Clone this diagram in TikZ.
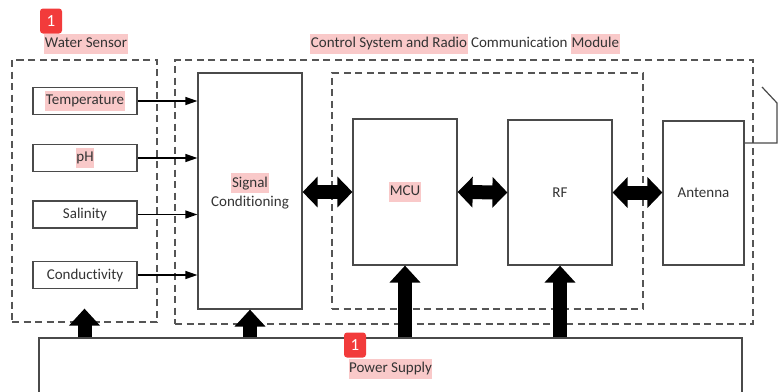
\documentclass[tikz,border=0pt]{standalone}
\usepackage{fontspec}
\setmainfont{Carlito}[Ligatures=NoCommon]
\usetikzlibrary{arrows.meta}

\definecolor{hlpink}{HTML}{F9C9C9}
\definecolor{badgered}{HTML}{F23B3B}
\definecolor{linegray}{HTML}{4A4A4A}
\definecolor{dashgray}{HTML}{555555}
\newcommand{\hl}[1]{{\setlength{\fboxsep}{0.6pt}\colorbox{hlpink}{\strut #1}}}

\tikzstyle{block} = [draw=linegray, line width=1.2pt, text=black!80, inner sep=0pt]
\tikzstyle{sensor} = [block, minimum width=104pt, minimum height=27pt]
\tikzstyle{group} = [draw=dashgray, line width=1.2pt, dash pattern=on 7pt off 4.5pt]
\tikzstyle{badge} = [fill=badgered, rounded corners=3pt, text=white, minimum width=22pt,
    minimum height=25pt, inner sep=0pt, font=\fontsize{17}{17}\selectfont]
\tikzstyle{feed} = [line width=1.2pt, -{Triangle[length=12pt,width=8pt]}]
\tikzstyle{supply} = [line width=14pt, -{Triangle[length=17pt,width=30pt]}]
\tikzstyle{link} = [line width=14pt, {Triangle[length=15pt,width=30pt]}-{Triangle[length=15pt,width=30pt]}]

\begin{document}
\begin{tikzpicture}[x=1pt, y=-1pt, font=\fontsize{15}{19}\selectfont, text=black!80]
\useasboundingbox (0,0) rectangle (781,391);
\clip (0,0) rectangle (781,391);

% groups
\node[group, minimum width=145pt, minimum height=262pt] (water) at (84.5,191) {};
\node[group, minimum width=578pt, minimum height=264pt] (ctrl) at (464,192) {};
\node[group, minimum width=311pt, minimum height=236pt] (radio) at (487.5,191) {};

\node (wlabel) at (86,44) {\hl{Water Sensor}};
\node (clabel) at (465,44) {\hl{Control System and Radio} Communication \hl{Module}};

% sensors
\node[sensor] (temp) at (85,101) {\hl{Temperature}};
\node[sensor] (ph) at (85,158) {\hl{pH}};
\node[sensor] (sal) at (85,214.5) {Salinity};
\node[sensor] (cond) at (85,275) {Conductivity};

% blocks
\node[block, minimum width=104pt, minimum height=236pt, align=center] (sc) at (250,191)
    {\hl{Signal}\\Conditioning};
\node[block, minimum width=104pt, minimum height=146pt] (mcu) at (405,192) {\hl{MCU}};
\node[block, minimum width=104pt, minimum height=145pt] (rf) at (560,192.5) {RF};
\node[block, minimum width=81pt, minimum height=144pt] (ant) at (703.5,193) {Antenna};

\node[block, minimum width=703pt, minimum height=62pt] (psu) at (390.5,369) {\hl{Power Supply}};

\node[badge] (badgeA) at (51,21) {1};
\node[badge] (badgeB) at (355,345) {1};

% connectors
\foreach \s in {temp,ph,sal,cond}
    \draw[feed] (\s.east) -- (sc.west |- \s.east);

\draw[link] (sc.east |- mcu) -- (mcu.west);
\draw[link] (mcu.east) -- (rf.west);
\draw[link] (rf.east) -- (ant.west |- rf.east);

\draw[supply] (psu.north -| water.south) -- ([yshift=14pt]water.south);
\draw[supply] (psu.north -| sc.south) -- (sc.south);
\draw[supply] (psu.north -| mcu.south) -- (mcu.south);
\draw[supply] (psu.north -| rf.south) -- (rf.south);

% aerial
\coordinate (mast) at (777,103);
\coordinate (rod) at (762,87);
\draw[linegray, line width=1.2pt] ([yshift=50pt]ant.east) -| (mast) -- (rod);
\end{tikzpicture}
\end{document}
